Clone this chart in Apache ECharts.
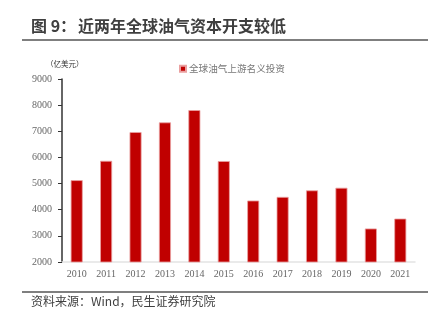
<!DOCTYPE html>
<html><head><meta charset="utf-8">
<script src="https://cdn.jsdelivr.net/npm/echarts@6/dist/echarts.min.js"></script>
<style>html,body{margin:0;padding:0;background:#fff}#c{width:446px;height:331px}</style>
</head><body><div id="c"></div>
<script>
const categories = ['2010','2011','2012','2013','2014','2015','2016','2017','2018','2019','2020','2021'];
const upstreamInvestment = [5130, 5870, 6970, 7340, 7810, 5860, 4350, 4490, 4740, 4840, 3280, 3660];
const yTicks = [2000, 3000, 4000, 5000, 6000, 7000, 8000, 9000];
const seriesName = '全球油气上游名义投资';

const chart = echarts.init(document.getElementById('c'), null, {renderer: 'canvas'});
const cjk = '"Noto Sans CJK SC", "Noto Sans", sans-serif';
const serif = '"Liberation Serif", "DejaVu Serif", serif';
chart.setOption({
  animation: false,
  backgroundColor: '#fff',
  grid: {left: 62, right: 31, top: 79, bottom: 69, containLabel: false},
  legend: {
    data: [seriesName], left: 174, top: 59, itemWidth: 6, itemHeight: 6, itemGap: 3,
    icon: 'rect',
    textStyle: {fontFamily: cjk, fontSize: 9.6, color: '#777', padding: [0, 0, 0, -2]}
  },
  graphic: [
    {type: 'text', left: 31, top: 18, style: {text: '图 9：', font: 'bold 16px ' + cjk, fill: '#3f3f3f'}},
    {type: 'text', left: 78, top: 18, style: {text: '近两年全球油气资本开支较低', font: 'bold 16px ' + cjk, fill: '#3f3f3f'}},
    {type: 'line', shape: {x1: 22, y1: 40, x2: 428, y2: 40}, style: {stroke: '#555', lineWidth: 1.5}},
    {type: 'line', shape: {x1: 22, y1: 292, x2: 428, y2: 292}, style: {stroke: '#555', lineWidth: 1.5}},
    {type: 'text', left: 31, top: 295, style: {text: '资料来源：Wind，民生证券研究院', font: '12px ' + cjk, fill: '#404040'}},
    {type: 'text', left: 46, top: 60, style: {text: '（亿美元）', font: '7.5px ' + cjk, fill: '#333'}}
  ],
  xAxis: {
    type: 'category', data: categories,
    axisLine: {lineStyle: {color: '#e3e3e3', width: 1.5}},
    axisTick: {show: false},
    axisLabel: {fontFamily: serif, fontSize: 10, color: '#666', margin: 7}
  },
  yAxis: {
    type: 'value', min: yTicks[0], max: yTicks[yTicks.length - 1], interval: 1000,
    axisLine: {show: true, lineStyle: {color: '#333', width: 1.5}},
    axisTick: {show: true, length: 4, lineStyle: {color: '#333'}},
    splitLine: {show: false},
    axisLabel: {fontFamily: serif, fontSize: 10, color: '#666', margin: 10, formatter: v => String(v)}
  },
  series: [{
    name: seriesName, type: 'bar', data: upstreamInvestment, barWidth: 12,
    itemStyle: {color: '#C00000', borderColor: '#eaa0a0', borderWidth: 0.8}
  }]
});
</script></body></html>
